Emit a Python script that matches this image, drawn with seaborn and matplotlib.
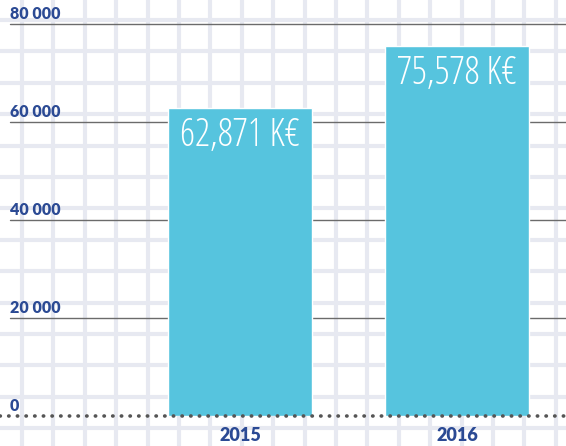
import numpy as np
import pandas as pd
import seaborn as sns
import matplotlib.pyplot as plt

# data
years = ['2015', '2016']
revenue = [62871, 75578]
value_labels = ['62,871 K€', '75,578 K€']
y_ticks = [0, 20000, 40000, 60000, 80000]
y_tick_labels = ['0', '20 000', '40 000', '60 000', '80 000']

bar_col = '#56C4DE'
txt_col = '#2B4A94'
grid_col = '#E7E9F1'

sns.set_style('white')
plt.rcParams['font.family'] = ['Lato', 'DejaVu Sans']

W, H = 566, 446
fig = plt.figure(figsize=(W / 100, H / 100), dpi=100)

# background squared paper
bg = fig.add_axes([0, 0, 1, 1], zorder=0)
bg.set_xlim(0, W)
bg.set_ylim(H, 0)
bg.set_xticks(np.arange(22, W, 31.4))
bg.set_yticks(np.arange(20, H, 31.4))
bg.grid(True, color=grid_col, lw=3)
bg.tick_params(length=0, labelbottom=False, labelleft=False)
for s in bg.spines.values():
    s.set_visible(False)

# main chart
ax = fig.add_axes([0, 30 / H, 1, 416 / H], zorder=1)
ax.patch.set_alpha(0)
df = pd.DataFrame({'year': years, 'revenue': revenue})
sns.barplot(data=df, x='year', y='revenue', color=bar_col, saturation=1,
            width=0.664, ax=ax, zorder=3)
ax.set_xlim(-1.106, 1.502)
ax.set_ylim(0, 80000 * 416 / 392)
ax.set_xlabel('')
ax.set_ylabel('')
ax.set_yticks([])
ax.tick_params(axis='x', length=0, pad=8, labelsize=13, labelcolor=txt_col)
for lbl in ax.get_xticklabels():
    lbl.set_fontweight('heavy')
for s in ax.spines.values():
    s.set_visible(False)

# value lines and labels
for v, lab in zip(y_ticks, y_tick_labels):
    if v > 0:
        ax.axhline(v, xmin=10 / W, xmax=1, color='#6B6B6B', lw=1, zorder=2)
    ax.annotate(lab, xy=(10 / W, v), xycoords=ax.get_yaxis_transform(),
                xytext=(0, 1.5), textcoords='offset points', va='bottom', ha='left',
                fontsize=11.5, fontweight='heavy', color=txt_col)

# dotted baseline
ax.axhline(0, color='#555555', lw=2.6, ls=(0, (0.1, 2.3)),
           dash_capstyle='round', clip_on=False, zorder=4)

# values inside the bars
for i, (v, lab) in enumerate(zip(revenue, value_labels)):
    ax.annotate(lab, xy=(i, v), xytext=(0, -6), textcoords='offset points',
                ha='center', va='top', color='white', fontsize=27,
                fontweight='light', fontstretch='condensed',
                family=['Open Sans', 'Roboto', 'DejaVu Sans'], zorder=5)

fig.savefig('out.png', dpi=100)
